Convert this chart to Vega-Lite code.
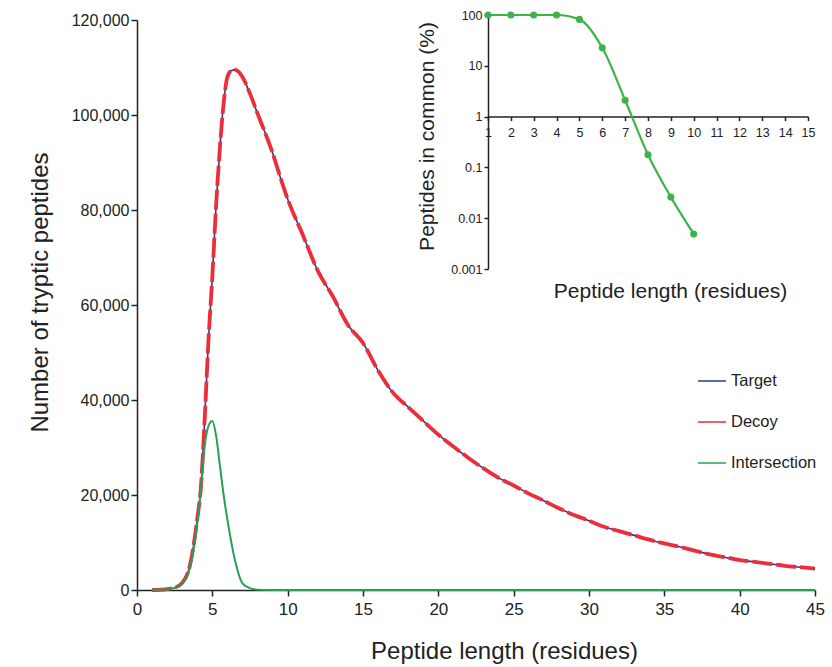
{
 "$schema": "https://vega.github.io/schema/vega-lite/v6.json",
 "width": 678, "height": 570,
 "autosize": {"type": "none"},
 "padding": {"left": 137, "top": 20, "right": 17, "bottom": 77},
 "background": "white",
 "config": {
  "font": "Liberation Sans",
  "view": {"stroke": null},
  "axis": {"grid": false, "domainColor": "#222", "tickColor": "#222", "labelColor": "#222", "titleColor": "#222", "titleFontWeight": "normal", "domainWidth": 1.5, "tickWidth": 1.5, "labelFlush": false, "labelOverlap": false}
 },
 "datasets": {
  "target": [
   {"L":1,"n":0},{"L":1.5,"n":50},{"L":2,"n":200},{"L":2.5,"n":500},{"L":3,"n":1500},{"L":3.5,"n":5000},{"L":4,"n":15000},{"L":4.25,"n":22000},{"L":4.5,"n":36500},{"L":4.75,"n":53000},{"L":5,"n":66000},{"L":5.25,"n":81000},{"L":5.5,"n":93000},{"L":5.75,"n":102500},{"L":6,"n":108000},{"L":6.25,"n":109300},{"L":6.5,"n":109500},{"L":6.75,"n":109100},{"L":7,"n":108000},{"L":7.5,"n":104500},{"L":8,"n":100300},{"L":8.5,"n":96300},{"L":9,"n":92000},{"L":9.5,"n":87000},{"L":10,"n":82300},{"L":11,"n":74800},{"L":12,"n":67200},{"L":13,"n":61800},{"L":14,"n":55800},{"L":15,"n":52000},{"L":16,"n":46200},{"L":17,"n":41500},{"L":18,"n":38500},{"L":19,"n":35600},{"L":20,"n":32700},{"L":21,"n":30200},{"L":22,"n":27800},{"L":23,"n":25600},{"L":24,"n":23600},{"L":25,"n":22000},{"L":26,"n":20300},{"L":27,"n":18800},{"L":28,"n":17200},{"L":29,"n":15800},{"L":30,"n":14600},{"L":31,"n":13300},{"L":32,"n":12400},{"L":33,"n":11500},{"L":34,"n":10600},{"L":35,"n":9800},{"L":36,"n":9100},{"L":37,"n":8300},{"L":38,"n":7500},{"L":39,"n":6900},{"L":40,"n":6300},{"L":41,"n":5900},{"L":42,"n":5500},{"L":43,"n":5100},{"L":44,"n":4800},{"L":45,"n":4500}
  ],
  "decoy": [
   {"L":1,"n":0},{"L":1.5,"n":50},{"L":2,"n":200},{"L":2.5,"n":500},{"L":3,"n":1500},{"L":3.5,"n":5000},{"L":4,"n":15000},{"L":4.25,"n":22000},{"L":4.5,"n":36500},{"L":4.75,"n":53000},{"L":5,"n":66000},{"L":5.25,"n":81000},{"L":5.5,"n":93000},{"L":5.75,"n":102500},{"L":6,"n":108000},{"L":6.25,"n":109300},{"L":6.5,"n":109500},{"L":6.75,"n":109100},{"L":7,"n":108000},{"L":7.5,"n":104500},{"L":8,"n":100300},{"L":8.5,"n":96300},{"L":9,"n":92000},{"L":9.5,"n":87000},{"L":10,"n":82300},{"L":11,"n":74800},{"L":12,"n":67200},{"L":13,"n":61800},{"L":14,"n":55800},{"L":15,"n":52000},{"L":16,"n":46200},{"L":17,"n":41500},{"L":18,"n":38500},{"L":19,"n":35600},{"L":20,"n":32700},{"L":21,"n":30200},{"L":22,"n":27800},{"L":23,"n":25600},{"L":24,"n":23600},{"L":25,"n":22000},{"L":26,"n":20300},{"L":27,"n":18800},{"L":28,"n":17200},{"L":29,"n":15800},{"L":30,"n":14600},{"L":31,"n":13300},{"L":32,"n":12400},{"L":33,"n":11500},{"L":34,"n":10600},{"L":35,"n":9800},{"L":36,"n":9100},{"L":37,"n":8300},{"L":38,"n":7500},{"L":39,"n":6900},{"L":40,"n":6300},{"L":41,"n":5900},{"L":42,"n":5500},{"L":43,"n":5100},{"L":44,"n":4800},{"L":45,"n":4500}
  ],
  "inter": [
   {"L":1,"n":0},{"L":1.5,"n":50},{"L":2,"n":150},{"L":2.5,"n":400},{"L":3,"n":1300},{"L":3.5,"n":4500},{"L":4,"n":14000},{"L":4.25,"n":21500},{"L":4.5,"n":30500},{"L":4.75,"n":34600},{"L":5,"n":35600},{"L":5.25,"n":32500},{"L":5.5,"n":26300},{"L":5.75,"n":20000},{"L":6,"n":14800},{"L":6.5,"n":6300},{"L":7,"n":1400},{"L":7.5,"n":400},{"L":8,"n":80},{"L":8.5,"n":0},{"L":10,"n":0},{"L":15,"n":0},{"L":20,"n":0},{"L":25,"n":0},{"L":30,"n":0},{"L":35,"n":0},{"L":40,"n":0},{"L":45,"n":0}
  ],
  "inset": [
   {"L":1,"pct":100},{"L":2,"pct":100},{"L":3,"pct":100},{"L":4,"pct":100},{"L":5,"pct":82},{"L":6,"pct":22.6},{"L":7,"pct":2.1},{"L":8,"pct":0.178},{"L":9,"pct":0.026},{"L":10,"pct":0.0049}
  ]
 },
 "layer": [
  {
   "encoding": {
    "x": {"field": "L", "type": "quantitative",
     "scale": {"domain": [0, 45], "nice": false, "zero": false},
     "axis": {"values": [0,5,10,15,20,25,30,35,40,45], "title": "Peptide length (residues)", "titleFontSize": 24, "labelFontSize": 17, "tickSize": 6, "labelPadding": 5, "titleX": 367, "titleY": 61, "titleBaseline": "middle"}},
    "y": {"field": "n", "type": "quantitative",
     "scale": {"domain": [0, 120000], "nice": false},
     "axis": {"values": [0,20000,40000,60000,80000,100000,120000], "format": ",d", "title": "Number of tryptic peptides", "titleFontSize": 24, "labelFontSize": 16, "tickSize": 6, "labelPadding": 2, "titleX": -97, "titleY": 272, "titleBaseline": "middle"}}
   },
   "layer": [
    {"data": {"name": "target"}, "transform": [{"calculate": "'Target'", "as": "series"}],
     "mark": {"type": "line", "strokeWidth": 1.6, "interpolate": "monotone"},
     "encoding": {"color": {"field": "series", "type": "nominal",
      "scale": {"domain": ["Target", "Decoy", "Intersection"], "range": ["#2b3a8f", "#ec2d3a", "#24a05a"]},
      "legend": {"orient": "none", "legendX": 560, "legendY": 346, "title": null, "symbolType": "stroke", "symbolSize": 784, "symbolStrokeWidth": 1.5, "symbolDash": [], "labelFontSize": 16.5, "labelOffset": 4, "rowPadding": 17, "labelColor": "#222"}}}},
    {"data": {"name": "decoy"}, "transform": [{"calculate": "'Decoy'", "as": "series"}],
     "mark": {"type": "line", "strokeWidth": 3.8, "strokeDash": [20, 4], "interpolate": "monotone"},
     "encoding": {"color": {"field": "series", "type": "nominal"}}},
    {"data": {"name": "inter"}, "transform": [{"calculate": "'Intersection'", "as": "series"}],
     "mark": {"type": "line", "strokeWidth": 2, "interpolate": "monotone"},
     "encoding": {"color": {"field": "series", "type": "nominal"}}}
   ]
  },
  {
   "data": {"name": "inset"},
   "encoding": {
    "x": {"field": "L", "type": "quantitative",
     "scale": {"domain": [1, 15], "range": [351, 671], "nice": false, "zero": false},
     "axis": {"orient": "bottom", "offset": -473.4, "values": [1,2,3,4,5,6,7,8,9,10,11,12,13,14,15], "tickSize": 4, "labelFontSize": 12.5, "labelPadding": 6, "title": "Peptide length (residues)", "titleFontSize": 21, "titleX": 533, "titleY": 175, "titleBaseline": "middle"}},
    "y": {"field": "pct", "type": "quantitative",
     "scale": {"type": "log", "domain": [0.001, 100], "range": [249, -5], "nice": false},
     "axis": {"orient": "left", "offset": -351, "values": [0.001, 0.01, 0.1, 1, 10, 100], "format": "~g", "tickSize": 4, "labelFontSize": 12.5, "labelPadding": 2, "title": "Peptides in common (%)", "titleFontSize": 21, "titleX": -61, "titleY": 116, "titleBaseline": "middle"}}
   },
   "layer": [
    {"mark": {"type": "line", "color": "#3cb44b", "strokeWidth": 2.2, "interpolate": "monotone"}},
    {"mark": {"type": "point", "filled": true, "color": "#3cb44b", "size": 50, "opacity": 1}}
   ]
  }
 ],
 "resolve": {"scale": {"x": "independent", "y": "independent"}, "axis": {"x": "independent", "y": "independent"}}
}
